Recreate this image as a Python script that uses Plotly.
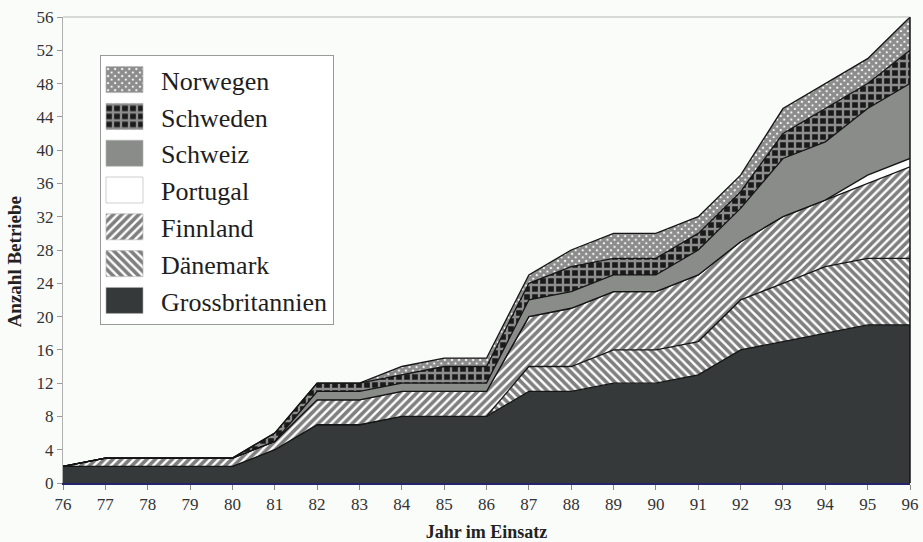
import plotly.graph_objects as go

# ---- data ----
years = [76, 77, 78, 79, 80, 81, 82, 83, 84, 85, 86, 87, 88, 89, 90, 91, 92, 93, 94, 95, 96]
year_labels = [str(y) for y in years]

grossbritannien = [2, 2, 2, 2, 2, 4, 7, 7, 8, 8, 8, 11, 11, 12, 12, 13, 16, 17, 18, 19, 19]
daenemark       = [0, 0, 0, 0, 0, 0, 0, 0, 0, 0, 0, 3, 3, 4, 4, 4, 6, 7, 8, 8, 8]
finnland        = [0, 1, 1, 1, 1, 1, 3, 3, 3, 3, 3, 6, 7, 7, 7, 8, 7, 8, 8, 9, 11]
portugal        = [0, 0, 0, 0, 0, 0, 0, 0, 0, 0, 0, 0, 0, 0, 0, 0, 0, 0, 0, 1, 1]
schweiz         = [0, 0, 0, 0, 0, 0, 1, 1, 1, 1, 1, 2, 2, 2, 2, 3, 4, 7, 7, 8, 9]
schweden        = [0, 0, 0, 0, 0, 1, 1, 1, 1, 2, 2, 2, 3, 2, 2, 2, 2, 3, 4, 3, 4]
norwegen        = [0, 0, 0, 0, 0, 0, 0, 0, 1, 1, 1, 1, 2, 3, 3, 2, 2, 3, 3, 3, 4]

y_ticks = list(range(0, 57, 4))

SERIF = "Liberation Serif, Times New Roman, serif"
BG = "#fafcfa"

series = [
    ("Grossbritannien", grossbritannien, dict(fillcolor="#35393a")),
    ("Dänemark", daenemark, dict(fillpattern=dict(shape="\\", fgcolor="#000000", bgcolor="white", size=6, solidity=0.6))),
    ("Finnland", finnland, dict(fillpattern=dict(shape="/", fgcolor="#000000", bgcolor="white", size=6, solidity=0.6))),
    ("Portugal", portugal, dict(fillcolor="white")),
    ("Schweiz", schweiz, dict(fillcolor="#8a8c8a")),
    ("Schweden", schweden, dict(fillpattern=dict(shape="+", fgcolor="white", bgcolor="#1a1a1a", size=8, solidity=0.5))),
    ("Norwegen", norwegen, dict(fillpattern=dict(shape="x", fgcolor="#1a1a1a", bgcolor="white", size=5, solidity=0.85))),
]

fig = go.Figure()
for name, vals, style in series:
    fig.add_trace(go.Scatter(
        x=years, y=vals, name=name, mode="lines",
        stackgroup="one",
        line=dict(color="#151515", width=1.3),
        **style,
    ))

fig.update_layout(
    width=923, height=542,
    margin=dict(l=63, r=13, t=17, b=59, autoexpand=False),
    paper_bgcolor=BG, plot_bgcolor=BG,
    font=dict(family=SERIF, size=17, color="#2a2a2a"),
    showlegend=True,
    legend=dict(
        x=0.0437, y=0.918, xanchor="left", yanchor="top",
        traceorder="reversed",
        bgcolor="white", bordercolor="#9a9a9a", borderwidth=1,
        font=dict(family=SERIF, size=26, color="#1e1e1e"),
        itemwidth=50,
    ),
    xaxis=dict(
        range=[76, 96], tickvals=years, ticktext=year_labels,
        showgrid=False, zeroline=False, automargin=False,
        showline=True, linecolor="#25256e", linewidth=1.5,
        ticks="outside", ticklen=5, tickcolor="#888888",
        tickfont=dict(family=SERIF, size=17, color="#333333"),
        title=dict(text="<b>Jahr im Einsatz</b>", font=dict(family=SERIF, size=18, color="#222222"), standoff=14),
    ),
    yaxis=dict(
        range=[0, 56], tickvals=y_ticks,
        showgrid=False, zeroline=False, automargin=False,
        showline=True, linecolor="#b0b0b0", linewidth=1,
        ticks="outside", ticklen=5, tickcolor="#999999",
        tickfont=dict(family=SERIF, size=17, color="#333333"),
    ),
    annotations=[dict(
        text="<b>Anzahl Betriebe</b>", textangle=-90,
        xref="paper", yref="paper", x=-0.057, y=0.475,
        xanchor="center", yanchor="middle", showarrow=False,
        font=dict(family=SERIF, size=19, color="#222222"),
    )],
    shapes=[
        dict(type="line", xref="paper", yref="paper", x0=0, x1=1, y0=1, y1=1,
             line=dict(color="#b5b5b5", width=1)),
        dict(type="line", xref="paper", yref="paper", x0=1, x1=1, y0=0, y1=1,
             line=dict(color="#151515", width=1.5)),
    ],
)

post = """
document.documentElement.style.margin='0';
document.body.style.margin='0';
document.body.style.padding='0';
document.body.style.overflow='hidden';
var gd = document.getElementById('{plot_id}');
function fixLegend(){
  var items = gd.querySelectorAll('.legend .traces');
  items.forEach(function(t){
    var f = t.querySelector('.legendfill path');
    if(f){ f.setAttribute('d','M5,-13h37v26h-37z'); f.style.stroke='#b0b0b0'; f.style.strokeWidth='0.6px'; }
    t.querySelectorAll('.legendlines path').forEach(function(l){ l.style.display='none'; });
  });
}
fixLegend();
if (gd.on) { gd.on('plotly_afterplot', fixLegend); }
setTimeout(fixLegend, 50);
"""

fig.write_html("out.html", post_script=post, config={"displayModeBar": False})
